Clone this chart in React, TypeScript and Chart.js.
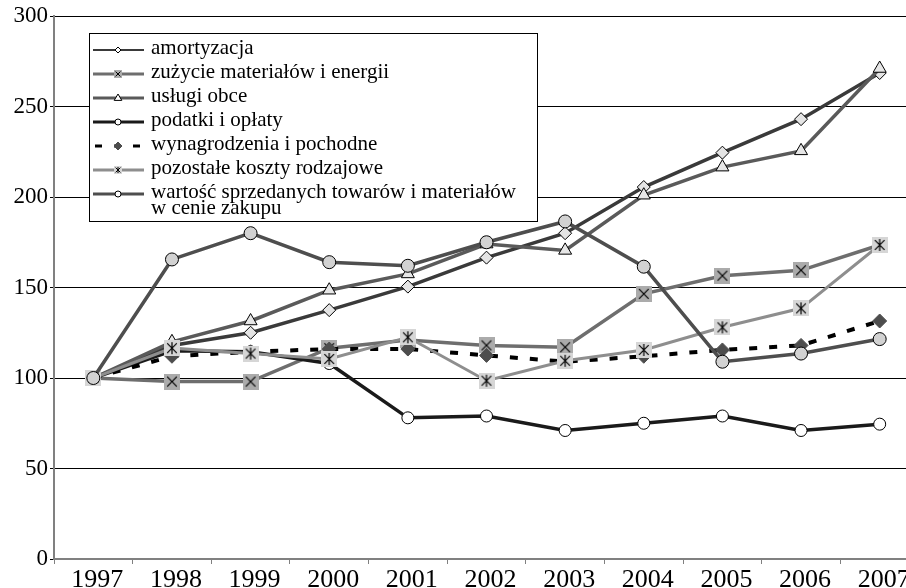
import React, { useEffect, useRef } from "react";
import { Chart, registerables } from "chart.js";

Chart.register(...registerables);

const years = ["1997", "1998", "1999", "2000", "2001", "2002", "2003", "2004", "2005", "2006", "2007"];
const yTicks = [0, 50, 100, 150, 200, 250, 300];

const amortyzacja = [100, 118, 125, 137.5, 150.5, 166.5, 180, 205.5, 224.5, 243, 268.5];
const zuzycie = [100, 98, 98, 116.5, 121, 118, 117, 146.5, 156.5, 159.5, 173.5];
const uslugi = [100, 120, 131.5, 148.5, 157.5, 174, 170.5, 201, 216.5, 225.5, 271];
const podatki = [100, 115, 114.5, 108, 78, 79, 71, 75, 79, 71, 74.5];
const wynagrodzenia = [100, 112, 114.5, 116, 116, 112.5, 109, 112, 115.5, 118, 131.5];
const pozostale = [100, 116.5, 113.5, 110.5, 122.5, 98.5, 109.5, 115.5, 128, 138.5, 173.5];
const wartosc = [100, 165.5, 180, 164, 162, 175, 186.5, 161.5, 109, 113.5, 121.5];

const labels = [
  "amortyzacja",
  "zużycie materiałów i energii",
  "usługi obce",
  "podatki i opłaty",
  "wynagrodzenia i pochodne",
  "pozostałe koszty rodzajowe",
  ["wartość sprzedanych towarów i materiałów", "w cenie zakupu"],
];

const FONT = "'Liberation Serif', 'Times New Roman', serif";

function squareMarker(size: number, fill: string, star: boolean, lw: number) {
  const c = document.createElement("canvas");
  c.width = size;
  c.height = size;
  const g = c.getContext("2d")!;
  g.fillStyle = fill;
  g.fillRect(0, 0, size, size);
  g.strokeStyle = "#000";
  g.lineWidth = lw;
  const m = size * 0.2;
  g.beginPath();
  g.moveTo(m, m);
  g.lineTo(size - m, size - m);
  g.moveTo(size - m, m);
  g.lineTo(m, size - m);
  if (star) {
    g.moveTo(size / 2, m * 0.6);
    g.lineTo(size / 2, size - m * 0.6);
  }
  g.stroke();
  return c;
}

function drawShape(ctx: CanvasRenderingContext2D, style: any, x: number, y: number, r: number, fill: string, stroke: string) {
  ctx.beginPath();
  if (style === "circle") {
    ctx.arc(x, y, r, 0, Math.PI * 2);
  } else if (style === "triangle") {
    ctx.moveTo(x, y - r);
    ctx.lineTo(x + r * 0.95, y + r * 0.6);
    ctx.lineTo(x - r * 0.95, y + r * 0.6);
    ctx.closePath();
  } else if (style === "rectRot") {
    ctx.moveTo(x, y - r);
    ctx.lineTo(x + r, y);
    ctx.lineTo(x, y + r);
    ctx.lineTo(x - r, y);
    ctx.closePath();
  }
  ctx.fillStyle = fill;
  ctx.fill();
  ctx.strokeStyle = stroke;
  ctx.lineWidth = 1;
  ctx.stroke();
}

export default function App() {
  const ref = useRef<HTMLCanvasElement>(null);

  useEffect(() => {
    const canvas = ref.current!;
    const xBig = squareMarker(16, "#ababab", false, 1.2);
    const starBig = squareMarker(16, "#d6d6d6", true, 1.2);
    const xSmall = squareMarker(8, "#ababab", false, 1);
    const starSmall = squareMarker(8, "#d6d6d6", true, 1);

    const legendInfo = [
      { style: "rectRot", r: 3, fill: "#fff", stroke: "#000" },
      { img: xSmall },
      { style: "triangle", r: 4, fill: "#fff", stroke: "#000" },
      { style: "circle", r: 3, fill: "#fff", stroke: "#000" },
      { style: "rectRot", r: 4, fill: "#4d4d4d", stroke: "#4d4d4d" },
      { img: starSmall },
      { style: "circle", r: 3, fill: "#fff", stroke: "#000" },
    ];

    const legendPlugin = {
      id: "boxLegend",
      afterDraw(chart: any) {
        const ctx: CanvasRenderingContext2D = chart.ctx;
        ctx.save();
        const bx = 89, by = 33, bw = 448, bh = 188;
        ctx.fillStyle = "#fff";
        ctx.fillRect(bx, by, bw, bh);
        ctx.strokeStyle = "#000";
        ctx.lineWidth = 1;
        ctx.strokeRect(bx + 0.5, by + 0.5, bw, bh);
        chart.data.datasets.forEach((ds: any, i: number) => {
          const rowY = 48 + i * 24;
          const ly = rowY + 2;
          ctx.save();
          ctx.strokeStyle = ds.borderColor;
          ctx.lineWidth = i === 0 ? 2 : 3;
          ctx.setLineDash(ds.borderDash ? [7, 12] : []);
          ctx.beginPath();
          ctx.moveTo(ds.borderDash ? 95 : 93, ly);
          ctx.lineTo(144, ly);
          ctx.stroke();
          ctx.restore();
          const info: any = legendInfo[i];
          if (info.img) {
            ctx.drawImage(info.img, 118 - info.img.width / 2, ly - info.img.height / 2);
          } else {
            drawShape(ctx, info.style, 118, ly, info.r, info.fill, info.stroke);
          }
          ctx.fillStyle = "#000";
          ctx.font = `21px ${FONT}`;
          ctx.textBaseline = "middle";
          ctx.textAlign = "left";
          const lab = ds.label;
          const lines = Array.isArray(lab) ? lab : [lab];
          lines.forEach((t: string, k: number) => {
            ctx.fillText(t, 151, rowY + k * 16);
          });
        });
        ctx.restore();
      },
    };

    const common = { borderWidth: 3.5, pointBorderWidth: 1, pointBorderColor: "#000", fill: false, tension: 0 };

    const chart = new Chart(canvas, {
      type: "line",
      data: {
        labels: years,
        datasets: [
          { ...common, label: labels[0] as any, data: amortyzacja, borderColor: "#3a3a3a", pointStyle: "rectRot", pointRadius: 6.5, pointBackgroundColor: "#e4e4e4", order: 6 },
          { ...common, label: labels[1] as any, data: zuzycie, borderColor: "#6e6e6e", pointStyle: xBig as any, order: 5 },
          { ...common, label: labels[2] as any, data: uslugi, borderColor: "#5a5a5a", pointStyle: "triangle", pointRadius: 7.5, pointBackgroundColor: "#e6e6e6", order: 4 },
          { ...common, label: labels[3] as any, data: podatki, borderColor: "#1a1a1a", pointStyle: "circle", pointRadius: 6, pointBackgroundColor: "#ffffff", order: 3 },
          { ...common, label: labels[4] as any, data: wynagrodzenia, borderColor: "#000000", borderWidth: 4, borderDash: [8, 12], pointStyle: "rectRot", pointRadius: 7, pointBackgroundColor: "#4d4d4d", pointBorderColor: "#4d4d4d", order: 2 },
          { ...common, label: labels[5] as any, data: pozostale, borderColor: "#8e8e8e", borderWidth: 3, pointStyle: starBig as any, order: 1 },
          { ...common, label: labels[6] as any, data: wartosc, borderColor: "#4e4e4e", pointStyle: "circle", pointRadius: 6.5, pointBackgroundColor: "#d2d2d2", order: 0 },
        ],
      },
      options: {
        animation: false,
        responsive: false,
        maintainAspectRatio: false,
        layout: { padding: { top: 16, right: 11, left: 0, bottom: 0 } },
        plugins: { legend: { display: false }, tooltip: { enabled: false }, title: { display: false } },
        scales: {
          x: {
            type: "category",
            offset: true,
            grid: { offset: true, drawOnChartArea: false, drawTicks: true, tickLength: 5, color: "#808080", lineWidth: 1 },
            border: { color: "#808080", width: 2 },
            ticks: { font: { family: FONT, size: 26 }, color: "#000", padding: 1, labelOffset: 4, maxRotation: 0, autoSkip: false },
            afterFit: (s: any) => { s.height = 41; },
          },
          y: {
            min: 0,
            max: 300,
            afterBuildTicks: (s: any) => { s.ticks = yTicks.map((v) => ({ value: v })); },
            grid: { color: "#000", lineWidth: 1, tickLength: 4, drawTicks: true },
            border: { color: "#808080", width: 2 },
            ticks: { font: { family: FONT, size: 23 }, color: "#000", padding: 2 },
            afterFit: (s: any) => { s.width = 54; },
          },
        },
      },
      plugins: [legendPlugin],
    });
    return () => chart.destroy();
  }, []);

  return (
    <div style={{ position: "fixed", left: 0, top: 0, width: 906, height: 588, overflow: "hidden", background: "#fff" }}>
      <canvas ref={ref} width={930} height={600} style={{ display: "block" }} />
    </div>
  );
}
